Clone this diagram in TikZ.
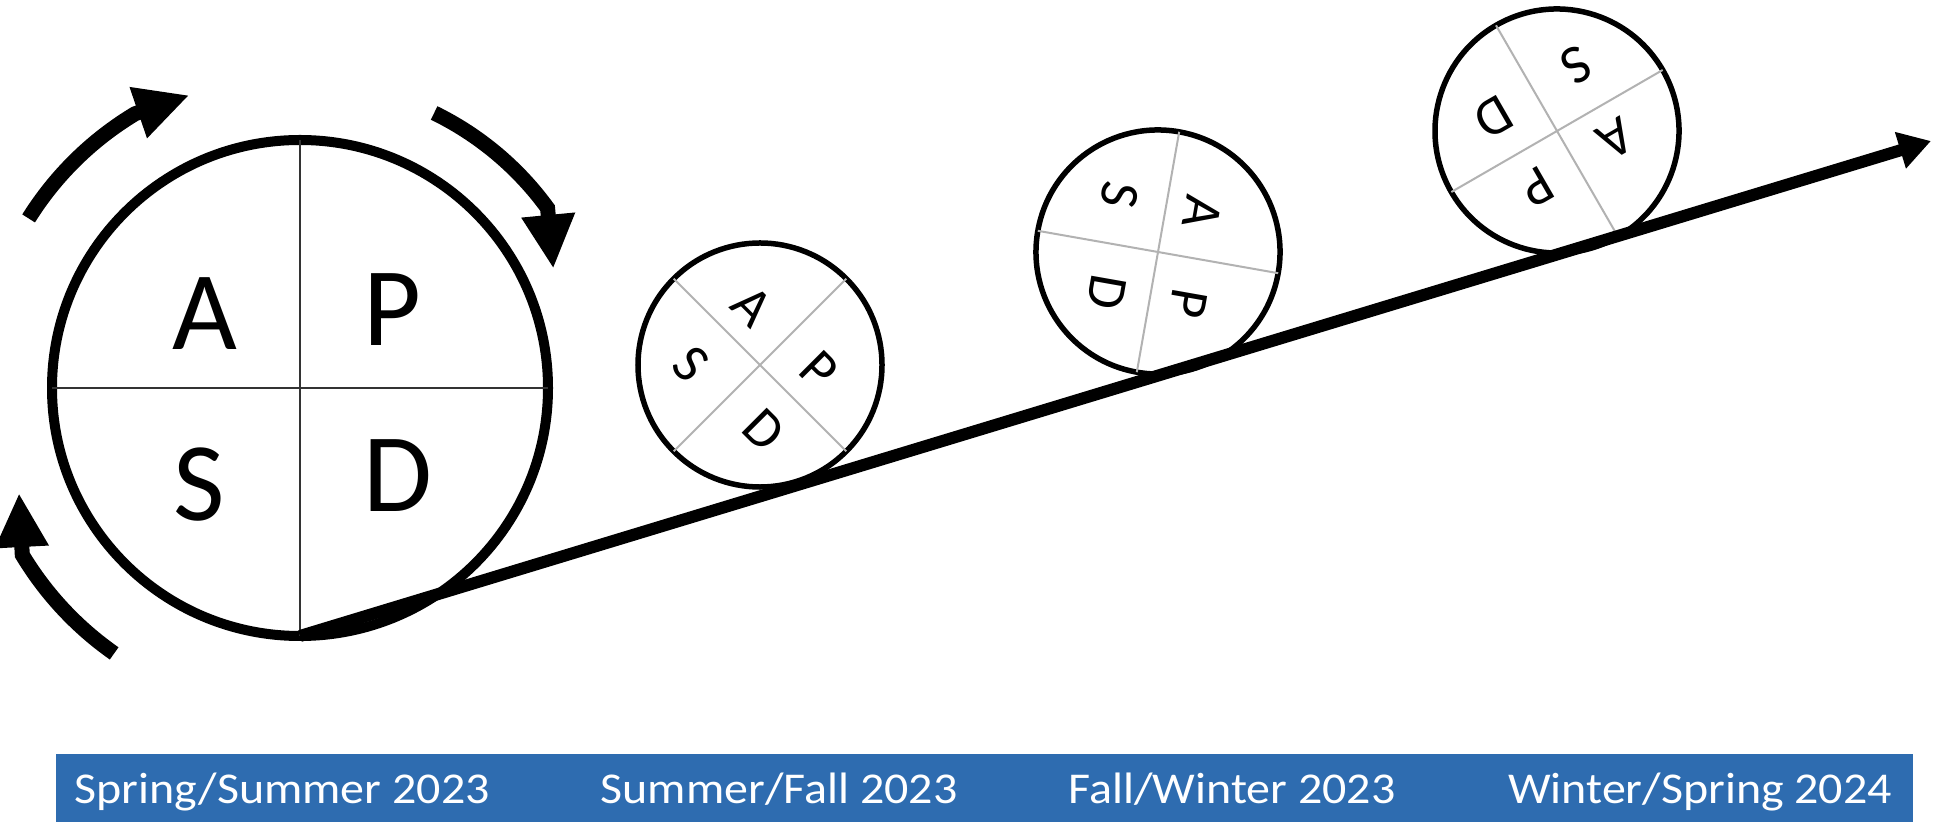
\documentclass[tikz,border=0pt]{standalone}
\usepackage{fontspec}
\setmainfont{Carlito}
\newfontfamily\seasonfont[FakeStretch=1.09]{Carlito}
\usetikzlibrary{arrows.meta}
\definecolor{barblue}{RGB}{46,108,176}

\begin{document}
\begin{tikzpicture}[x=1pt, y=1pt,
  wheel/.style={circle, draw, fill=white, minimum size=496pt, inner sep=0pt, outer sep=0pt},
  letter/.style={font=\fontsize{112}{112}\selectfont, inner sep=0pt},
  turn/.style={line width=15pt, -{Triangle[length=54pt, width=50pt]}},
  season/.style={font=\seasonfont\fontsize{44}{44}\selectfont, text=white, anchor=base}]
\useasboundingbox (0,0) rectangle (1933,822);
\node[wheel, line width=10pt] (wheel) at (300,434) {};
\draw[line width=2.3pt, black!80] (wheel.north) -- (wheel.south) (wheel.west) -- (wheel.east);
\node[letter] (wA) at ([shift={(-95,74)}]wheel.center) {A};
\node[letter] (wP) at ([shift={(92,78)}]wheel.center) {P};
\node[letter] (wS) at ([shift={(-101,-97)}]wheel.center) {S};
\node[letter] (wD) at ([shift={(98,-88)}]wheel.center) {D};
\draw[turn] ([shift={(148:320)}]wheel.center) arc[start angle=148, end angle=121, radius=320] -- ([shift={(110.7:313)}]wheel.center);
\draw[turn] ([shift={(64:306)}]wheel.center) arc[start angle=64, end angle=36, radius=306] -- ([shift={(25.2:280)}]wheel.center);
\draw[turn] ([shift={(235:324)}]wheel.center) arc[start angle=235, end angle=211, radius=324] -- ([shift={(200.5:300)}]wheel.center);
\foreach \i/\cx/\cy/\turn in {1/760/457/-45, 2/1158/570/-100, 3/1557/691/-150}{
  \begin{scope}[shift={(\cx,\cy)}, rotate=\turn, scale=.492, transform shape]
    \node[wheel, line width=5.5pt] (roll\i) at (0,0) {};
    \draw[line width=2pt, black!30] (roll\i.north) -- (roll\i.south) (roll\i.west) -- (roll\i.east);
    \node[letter] (roll\i-A) at (-95,74) {A};
    \node[letter] (roll\i-P) at (92,78) {P};
    \node[letter] (roll\i-S) at (-101,-97) {S};
    \node[letter] (roll\i-D) at (98,-88) {D};
  \end{scope}
}
\coordinate (tip) at (1931,681);
\draw[line width=12pt, -{Triangle[length=32pt, width=36pt]}] (wheel.south) -- (tip);
\fill[barblue] (56,0) rectangle (1913,68);
\node[season] (spring) at (282,19) {Spring/Summer 2023};
\node[season] (summer) at (779,19) {Summer/Fall 2023};
\node[season] (fall) at (1232,19) {Fall/Winter 2023};
\node[season] (winter) at (1700,19) {Winter/Spring 2024};
\end{tikzpicture}
\end{document}
